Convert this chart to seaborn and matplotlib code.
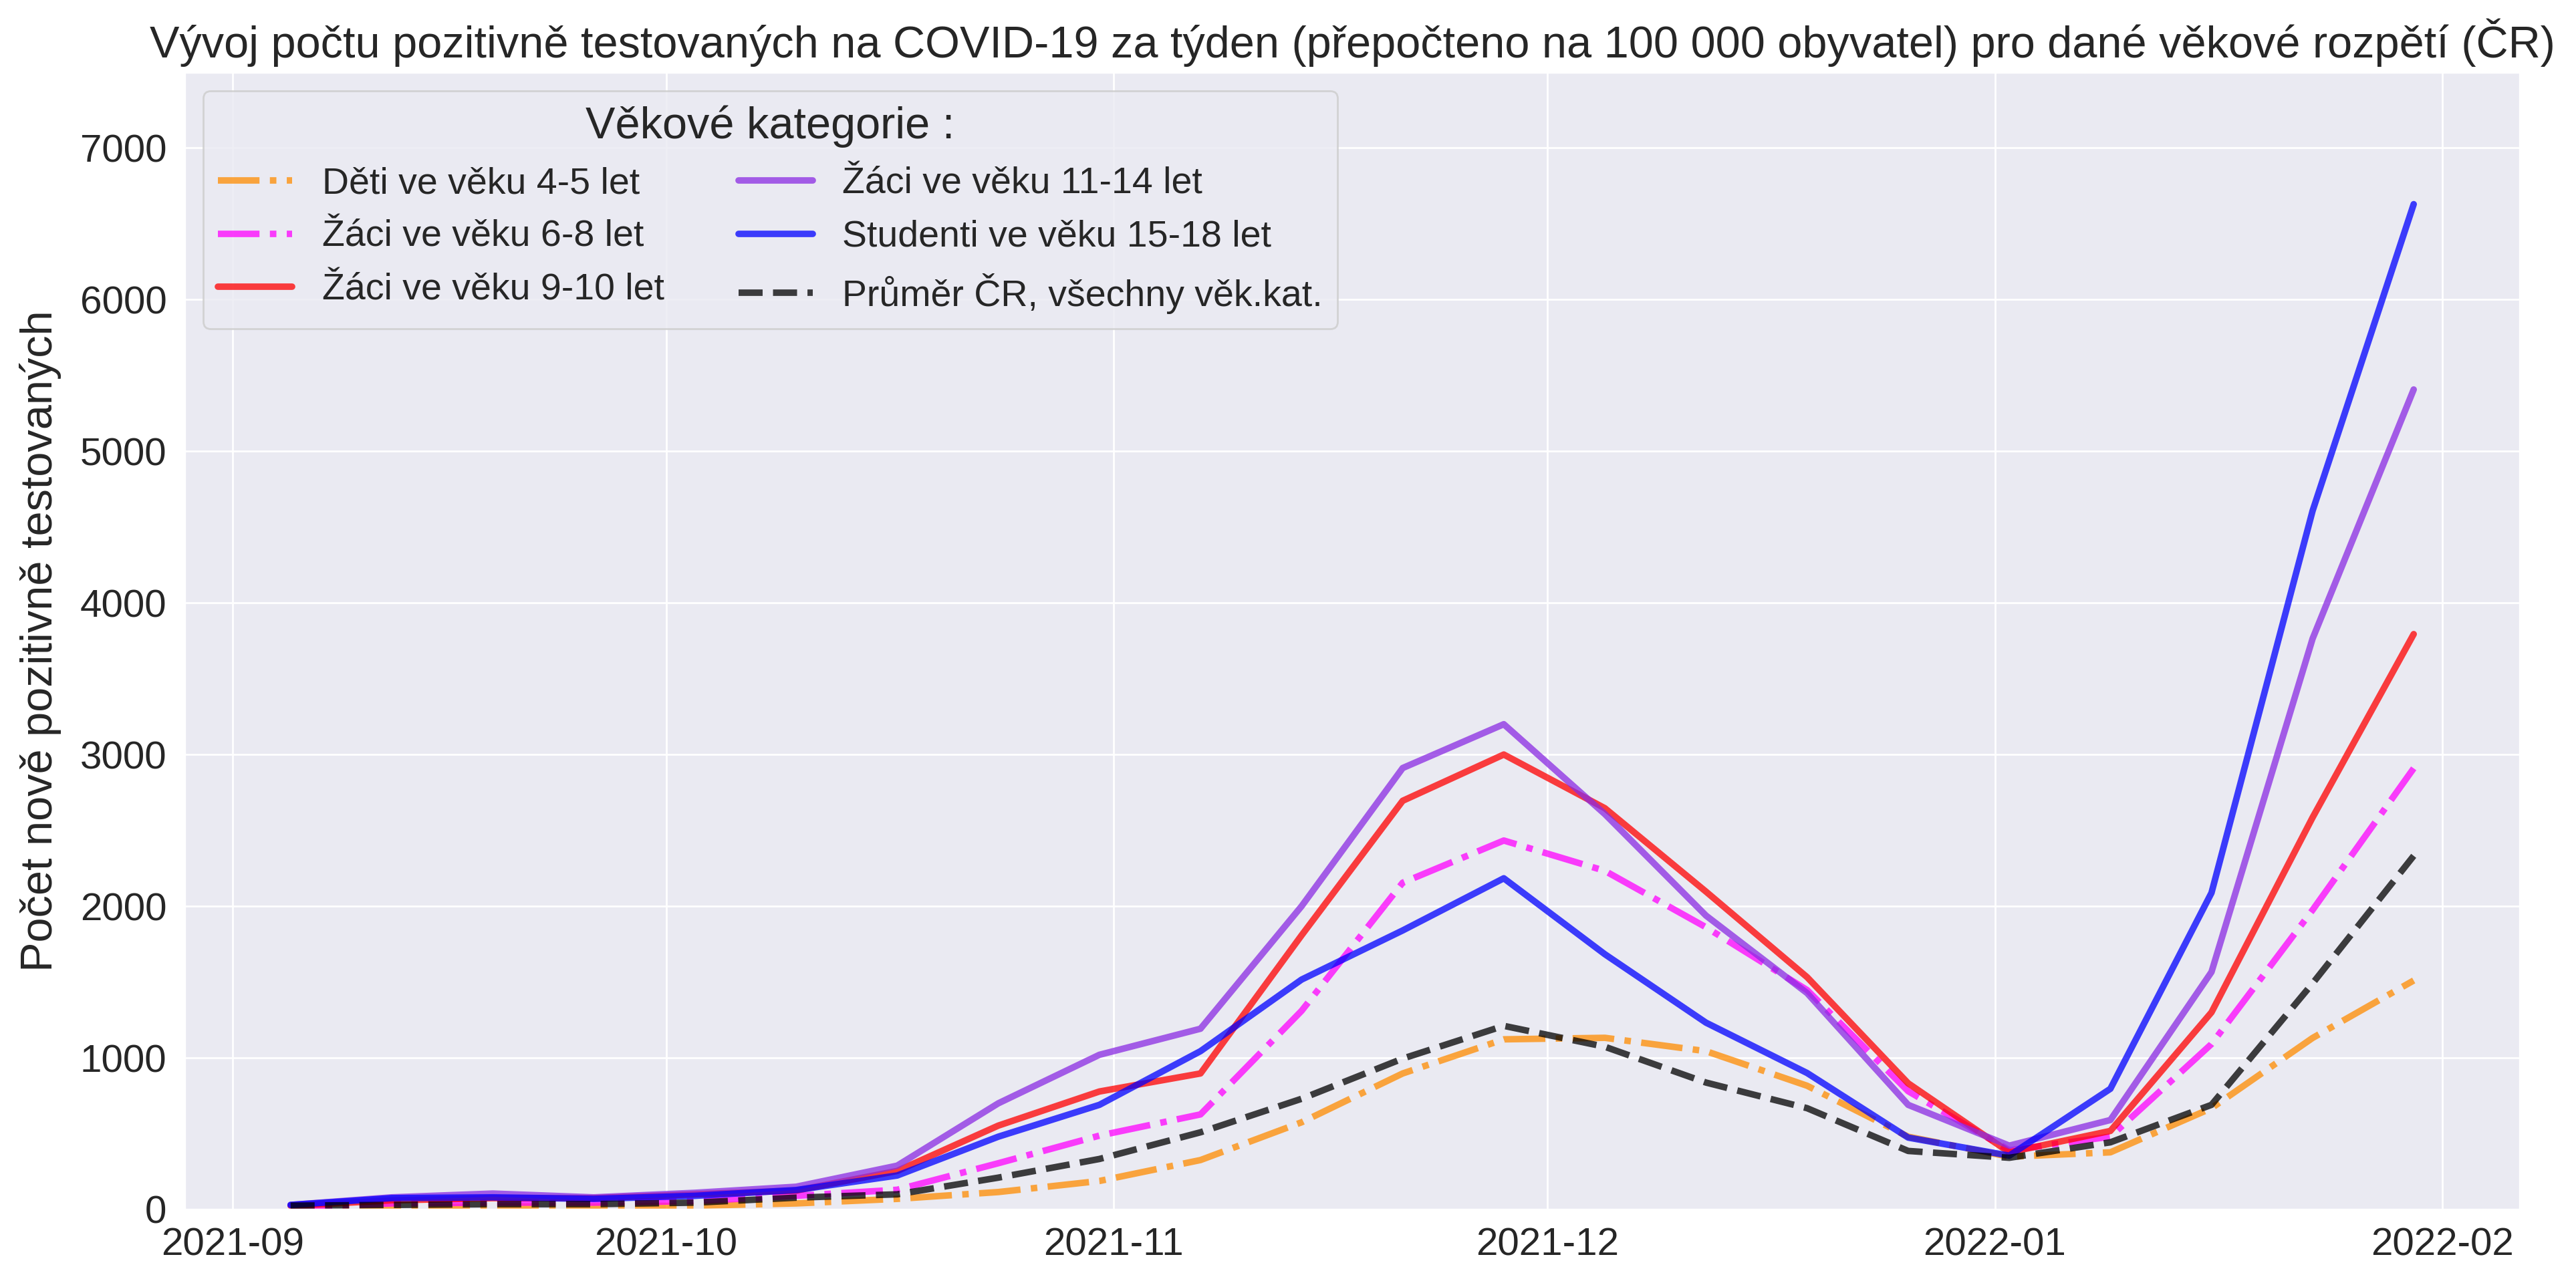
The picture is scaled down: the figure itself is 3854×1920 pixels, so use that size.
import pandas as pd
import matplotlib
matplotlib.use("Agg")
import matplotlib.pyplot as plt
import seaborn as sns

dates = pd.date_range("2021-09-05", "2022-01-30", freq="7D")

deti_4_5 = [10, 15, 20, 20, 25, 40, 70, 115, 188, 326, 575, 897, 1122, 1132, 1044,
            816, 480, 348, 377, 668, 1131, 1510]
zaci_6_8 = [15, 40, 45, 45, 55, 90, 130, 305, 487, 627, 1310, 2155, 2433, 2233, 1861,
            1447, 780, 390, 480, 1091, 1975, 2909]
zaci_9_10 = [25, 60, 75, 75, 100, 125, 254, 553, 778, 897, 1808, 2695, 3000, 2646, 2096,
             1532, 832, 377, 518, 1300, 2585, 3794]
zaci_11_14 = [30, 80, 105, 80, 110, 150, 289, 700, 1020, 1192, 2000, 2911, 3200, 2607, 1938,
              1427, 690, 421, 590, 1566, 3764, 5407]
studenti_15_18 = [30, 75, 80, 70, 90, 128, 224, 480, 690, 1044, 1516, 1840, 2184, 1683, 1232,
                  900, 474, 355, 796, 2088, 4607, 6629]
prumer_cr = [25, 30, 35, 35, 45, 78, 100, 210, 333, 509, 730, 995, 1211, 1073, 837,
             668, 386, 341, 443, 690, 1491, 2332]

labels = ["Děti ve věku 4-5 let", "Žáci ve věku 6-8 let", "Žáci ve věku 9-10 let",
          "Žáci ve věku 11-14 let", "Studenti ve věku 15-18 let", "Průměr ČR, všechny věk.kat."]
series = [deti_4_5, zaci_6_8, zaci_9_10, zaci_11_14, studenti_15_18, prumer_cr]
colors = ["darkorange", "magenta", "red", "blueviolet", "blue", "black"]
styles = ["-.", "-.", "-", "-", "-", "--"]

title = "Vývoj počtu pozitivně testovaných na COVID-19 za týden (přepočteno na 100 000 obyvatel) pro dané věkové rozpětí (ČR)"
ylabel = "Počet nově pozitivně testovaných"
legend_title = "Věkové kategorie :"

sns.set_theme(style="darkgrid")
plt.rcParams["font.family"] = ["Liberation Sans", "DejaVu Sans"]

fig = plt.figure(figsize=(19.27, 9.6), dpi=200)
ax = fig.add_axes([0.0716, 0.0573, 0.9066, 0.8865])

for lab, vals, col, ls in zip(labels, series, colors, styles):
    df = pd.DataFrame({"datum": dates, "hodnota": vals})
    sns.lineplot(data=df, x="datum", y="hodnota", ax=ax, color=col, linestyle=ls,
                 linewidth=3.5, alpha=0.75, label=lab)

ax.set_ylim(0, 7500)
ax.set_xlabel("")
ax.set_ylabel(ylabel, fontsize=24, labelpad=10)
ax.tick_params(axis="both", labelsize=21)
ax.set_title(title, fontsize=24, pad=8)
leg = ax.legend(title=legend_title, ncol=2, loc="upper left", fontsize=20, title_fontsize=24)

fig.savefig("out.png", dpi=200)
